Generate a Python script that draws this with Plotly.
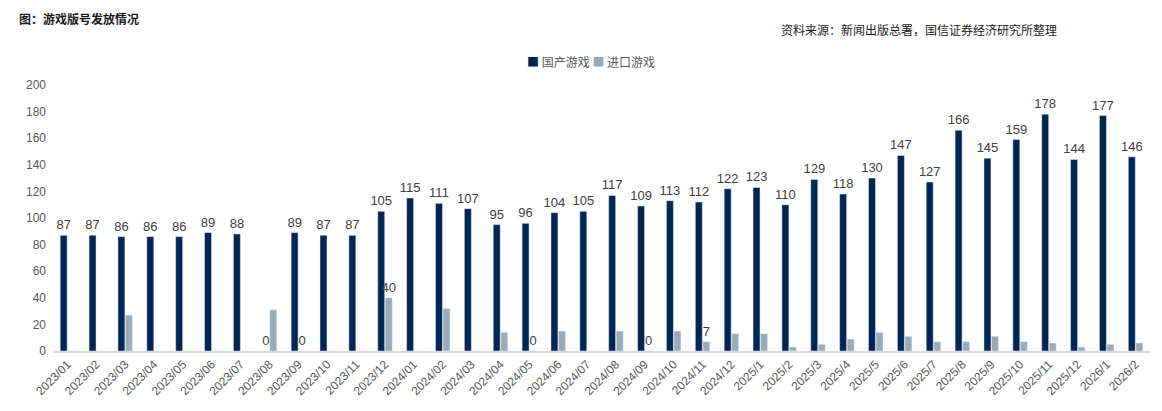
import plotly.graph_objects as go

months = ["2023/01","2023/02","2023/03","2023/04","2023/05","2023/06","2023/07","2023/08",
          "2023/09","2023/10","2023/11","2023/12","2024/01","2024/02","2024/03","2024/04",
          "2024/05","2024/06","2024/07","2024/08","2024/09","2024/10","2024/11","2024/12",
          "2025/1","2025/2","2025/3","2025/4","2025/5","2025/6","2025/7","2025/8",
          "2025/9","2025/10","2025/11","2025/12","2026/1","2026/2"]
domestic = [87,87,86,86,86,89,88,0,89,87,87,105,115,111,107,95,96,104,105,117,109,113,112,122,
            123,110,129,118,130,147,127,166,145,159,178,144,177,146]
imported = [0,0,27,0,0,0,0,31,0,0,0,40,0,32,0,14,0,15,0,15,0,15,7,13,
            13,3,5,9,14,11,7,7,11,7,6,3,5,6]
# import values that carry a data label in the source chart
imported_labels = {"2023/09":"0","2023/12":"40","2024/05":"0","2024/09":"0","2024/11":"7"}

NAVY = "#002654"
GREY = "#9AAAB9"
FONT = "Liberation Sans, Arial, Noto Sans CJK SC, sans-serif"
CJK = "Noto Sans CJK SC, Liberation Sans, sans-serif"

# the page body has an 8px default margin; lay the figure out to compensate
OFF = 8
W, H = 1162 - OFF, 411 - OFF
ML, MR = 53 - OFF, 12
MT, MB = 85 - OFF, 60

imp_text = [imported_labels.get(m, "") for m in months]

fig = go.Figure()
fig.add_trace(go.Bar(
    x=months, y=domestic, name="国产游戏", marker_color=NAVY,
    text=[str(v) for v in domestic], textposition="outside",
    textfont=dict(size=13, color="#404040", family=FONT),
    constraintext="none", cliponaxis=False,
))
fig.add_trace(go.Bar(
    x=months, y=imported, name="进口游戏", marker_color=GREY,
    text=imp_text, textposition="outside",
    textfont=dict(size=13, color="#404040", family=FONT),
    constraintext="none", cliponaxis=False,
))

pw = W - ML - MR
ph = H - MT - MB
def px(x):
    return (x - OFF - ML) / pw
def py(y):
    return (H - MB - (y - OFF)) / ph

legend_text = (f"<span style='color:{NAVY}'>■</span> 国产游戏 "
               f"<span style='color:{GREY}'>■</span> 进口游戏")

fig.update_layout(
    width=W, height=H,
    margin=dict(l=ML, r=MR, t=MT, b=MB, autoexpand=False),
    paper_bgcolor="white", plot_bgcolor="white",
    barmode="group", bargap=0.48, bargroupgap=0.07,
    font=dict(family=FONT, color="#595959", size=12),
    showlegend=False,
    xaxis=dict(type="category", tickangle=-45, showgrid=False, showline=True,
               linecolor="#D9D9D9", linewidth=1.5, ticks="", automargin=False,
               tickfont=dict(size=12, color="#595959", family=FONT)),
    yaxis=dict(range=[0, 200], dtick=20, showgrid=False, zeroline=False, showline=False,
               ticks="", automargin=False, ticklabelstandoff=6,
               tickfont=dict(size=12, color="#595959", family=FONT)),
    annotations=[
        dict(text="<b>图：游戏版号发放情况</b>", x=px(17), y=py(18), xref="paper", yref="paper",
             showarrow=False, xanchor="left", yanchor="middle",
             font=dict(family=CJK, size=12, color="#1a1a1a")),
        dict(text="资料来源：新闻出版总署，国信证券经济研究所整理", x=px(1059), y=py(30),
             xref="paper", yref="paper", showarrow=False, xanchor="right", yanchor="middle",
             font=dict(family=CJK, size=12, color="#1a1a1a")),
        dict(text=legend_text, x=px(591), y=py(62), xref="paper", yref="paper",
             showarrow=False, xanchor="center", yanchor="middle",
             font=dict(family=CJK, size=12, color="#595959")),
    ],
)

fig.write_html("out.html")
